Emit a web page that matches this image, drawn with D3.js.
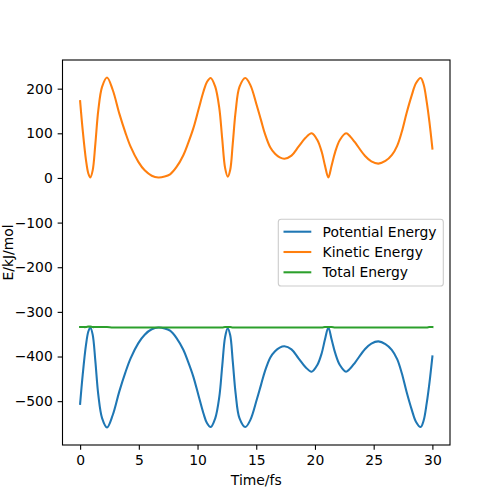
<!DOCTYPE html>
<html>
<head>
<meta charset="utf-8">
<script src="https://cdn.jsdelivr.net/npm/d3@7"></script>
<style>
  body { margin: 0; background: #fff; }
  svg { display: block; font-family: "DejaVu Sans", sans-serif; }
</style>
</head>
<body>
<svg id="chart" width="500" height="500"></svg>
<script>
const time = [0, 0.22, 0.5, 0.7, 0.87, 1.07, 1.3, 1.55, 1.87, 2.29, 2.78, 3.34, 3.85, 4.3, 4.96, 5.5, 6.1, 6.66, 7.2, 7.66, 8.2, 8.79, 9.2, 9.64, 10.1, 10.5, 10.8, 11.12, 11.5, 11.85, 12.1, 12.35, 12.57, 12.78, 13.0, 13.25, 13.57, 14.07, 14.5, 15.04, 15.4, 15.75, 16.2, 16.6, 17.0, 17.4, 18.0, 18.6, 19.2, 19.72, 20.2, 20.58, 20.85, 21.14, 21.42, 21.72, 22.12, 22.65, 23.0, 23.4, 24.27, 24.8, 25.4, 26.0, 26.54, 27.0, 27.39, 27.8, 28.24, 28.6, 29.0, 29.25, 29.52, 29.75, 30];
const kinetic = [172, 107, 40, 10, 1, 17, 77, 152, 204, 225, 197, 144, 102, 70, 36, 17, 5, 1, 3, 8, 24, 51, 78, 111, 155, 193, 215, 224, 205, 157, 88, 22, 3, 18, 77, 150, 204, 224, 208, 163, 130, 98, 68, 54, 46, 43, 50, 70, 90, 100, 85, 58, 28, 1, 28, 58, 85, 100, 93, 80, 49, 37, 32, 38, 51, 72, 103, 145, 185, 212, 224, 210, 170, 125, 66];
const potential = [-506, -441, -374, -344, -335, -351, -411, -486, -538, -559, -531, -478, -436, -404, -370, -351, -339, -335, -337, -342, -358, -385, -412, -445, -489, -527, -549, -558, -539, -491, -422, -356, -337, -352, -411, -484, -538, -558, -542, -497, -464, -432, -402, -388, -380, -377, -384, -404, -424, -434, -419, -392, -362, -335, -362, -392, -419, -434, -427, -414, -383, -371, -366, -372, -385, -406, -437, -479, -519, -546, -558, -544, -504, -459, -400];
const total = [-334, -334, -334, -333, -333, -334, -334, -334, -334, -334, -335, -335, -335, -335, -335, -335, -335, -335, -335, -335, -335, -335, -335, -335, -335, -335, -335, -335, -335, -335, -335, -334, -334, -334, -335, -335, -335, -335, -335, -335, -335, -335, -335, -335, -335, -335, -335, -335, -335, -335, -335, -335, -334, -334, -334, -335, -335, -335, -335, -335, -335, -335, -335, -335, -335, -335, -335, -335, -335, -335, -335, -335, -335, -334, -334];
const xTicks = [0, 5, 10, 15, 20, 25, 30];
const yTicks = [-500, -400, -300, -200, -100, 0, 100, 200];
const seriesNames = ["Potential Energy", "Kinetic Energy", "Total Energy"];
const seriesColors = ["#1f77b4", "#ff7f0e", "#2ca02c"];
const xLabel = "Time/fs";
const yLabel = "E/kJ/mol";

const svg = d3.select("#chart");
const L = 62.5, R = 450, T = 60, B = 445;
const fs = 13.9;

const allVals = kinetic.concat(potential, total);
const yMin = d3.min(allVals), yMax = d3.max(allVals);
const yPad = (yMax - yMin) * 0.05;
const x = d3.scaleLinear().domain([-1.5, 31.5]).range([L, R]);
const y = d3.scaleLinear().domain([yMin - yPad, yMax + yPad]).range([B, T]);

const series = [potential, kinetic, total];
const line = d3.line().x((d, i) => x(time[i])).y(d => y(d)).curve(d3.curveCatmullRom.alpha(0.5));

svg.append("clipPath").attr("id", "clip").append("rect")
  .attr("x", L).attr("y", T).attr("width", R - L).attr("height", B - T);

const g = svg.append("g").attr("clip-path", "url(#clip)");
series.forEach((s, k) => {
  g.append("path").datum(s)
    .attr("d", line)
    .attr("fill", "none")
    .attr("stroke", seriesColors[k])
    .attr("stroke-width", 2.08)
    .attr("stroke-linecap", "square")
    .attr("stroke-linejoin", "round");
});

// axes
const xAxis = svg.append("g").attr("transform", `translate(0,${B})`)
  .call(d3.axisBottom(x).tickValues(xTicks).tickSize(4.86).tickPadding(4.86).tickFormat(d3.format("d")));
const yAxis = svg.append("g").attr("transform", `translate(${L},0)`)
  .call(d3.axisLeft(y).tickValues(yTicks).tickSize(4.86).tickPadding(4.86).tickFormat(d3.format("d")));
[xAxis, yAxis].forEach(a => {
  a.select(".domain").remove();
  a.selectAll(".tick line").attr("stroke", "#000").attr("stroke-width", 1.1);
  a.selectAll(".tick text").attr("font-size", fs).attr("fill", "#000").attr("font-family", "DejaVu Sans");
});

// frame
svg.append("rect").attr("x", L).attr("y", T).attr("width", R - L).attr("height", B - T)
  .attr("fill", "none").attr("stroke", "#000").attr("stroke-width", 1.1);

svg.append("text").attr("x", (L + R) / 2).attr("y", 485)
  .attr("text-anchor", "middle").attr("font-size", fs).text(xLabel);
svg.append("text").attr("transform", `translate(13,${(T + B) / 2}) rotate(-90)`)
  .attr("text-anchor", "middle").attr("font-size", fs).text(yLabel);

// legend
const lg = svg.append("g");
lg.append("rect").attr("x", 278.3).attr("y", 219.3).attr("width", 165).attr("height", 66.7)
  .attr("rx", 2.8).attr("fill", "#fff").attr("fill-opacity", 0.8)
  .attr("stroke", "#cccccc").attr("stroke-width", 1.1);
seriesNames.forEach((n, k) => {
  const yy = 231.7 + k * 20.3;
  lg.append("line").attr("x1", 283.5).attr("x2", 311.3).attr("y1", yy).attr("y2", yy)
    .attr("stroke", seriesColors[k]).attr("stroke-width", 2.08);
  lg.append("text").attr("x", 322.6).attr("y", yy + 5).attr("font-size", fs).text(n);
});
</script>
</body>
</html>
